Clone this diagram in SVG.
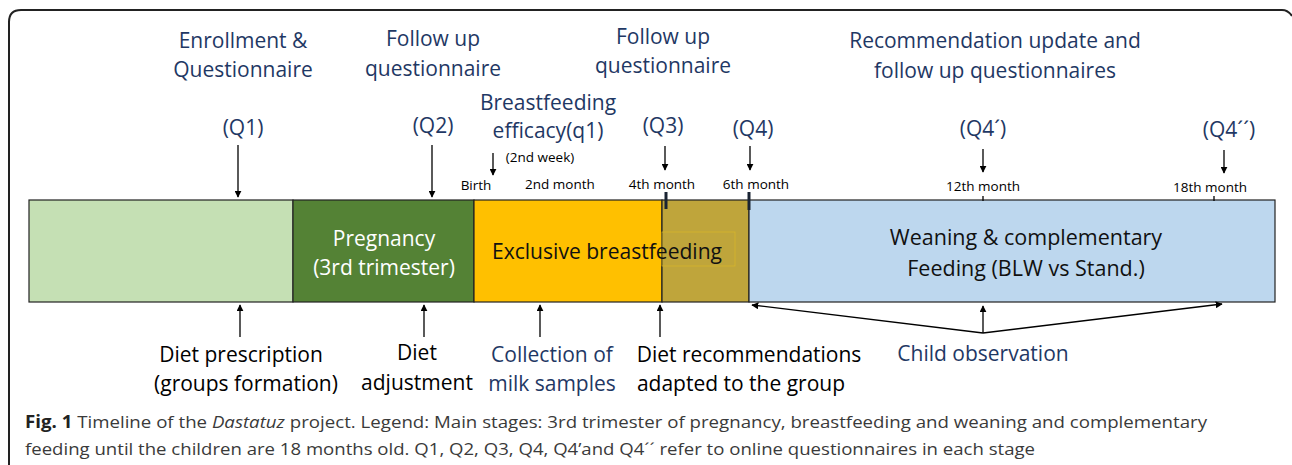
<svg xmlns="http://www.w3.org/2000/svg" width="1292" height="465" viewBox="0 0 1292 465">
<style>
.t{font-family:"Open Sans","Liberation Sans",sans-serif;text-anchor:middle}
.navy{fill:#1f3864;font-size:21px}
.blk{fill:#000;font-size:21px}
.sm{fill:#000;font-size:13.5px}
.cap{font-family:"Open Sans","Liberation Sans",sans-serif;fill:#3a3a3a;font-size:17px}
.ln{stroke:#000;stroke-width:1.3;fill:none}
.seg{stroke:#222;stroke-width:1.2}
</style>
<defs>
<marker id="ah" viewBox="0 0 10 10" refX="9" refY="5" markerWidth="7" markerHeight="7" markerUnits="userSpaceOnUse" orient="auto">
<path d="M0,0 L10,5 L0,10 z" fill="#000"/>
</marker>
</defs>
<rect width="1292" height="465" fill="#fff"/>
<path d="M9,465 L9,22 Q9,10 21,10 L1282,10 Q1288,10 1292,16" fill="none" stroke="#222" stroke-width="2"/>

<g id="seg-prescription"><rect class="seg" x="29" y="200" width="264" height="102" fill="#c5e0b4"/></g>
<g id="seg-pregnancy"><rect class="seg" x="293" y="200" width="181" height="102" fill="#548235"/>
<text class="t" x="384" y="246" fill="#fff" font-size="21">Pregnancy</text>
<text class="t" x="384" y="275" fill="#fff" font-size="21">(3rd trimester)</text></g>
<g id="seg-breastfeeding"><rect class="seg" x="474" y="200" width="188" height="102" fill="#ffc000"/>
<rect class="seg" x="662" y="200" width="87" height="102" fill="#bfa53b"/>
<rect x="662" y="232" width="73" height="34" fill="none" stroke="#d9b82a" stroke-width="0.7"/>
<text class="t" x="607" y="259" fill="#111" font-size="21" textLength="230" lengthAdjust="spacingAndGlyphs">Exclusive breastfeeding</text></g>
<g id="seg-weaning"><rect class="seg" x="749" y="200" width="526" height="102" fill="#bdd7ee"/>
<text class="t" x="1026" y="245" fill="#111" font-size="21.5">Weaning &amp; complementary</text>
<text class="t" x="1026" y="276" fill="#111" font-size="21.5">Feeding (BLW vs Stand.)</text></g>

<g id="ticks">
<line x1="666" y1="192" x2="666" y2="209" stroke="#1a2433" stroke-width="3"/>
<line x1="749" y1="192" x2="749" y2="210" stroke="#1a2433" stroke-width="3"/>
<line x1="983" y1="196" x2="983" y2="201" stroke="#000" stroke-width="1.3"/>
<line x1="1214" y1="196" x2="1214" y2="201" stroke="#000" stroke-width="1.3"/>
</g>

<g id="connectors">
<line class="ln" x1="238" y1="145" x2="238" y2="197" marker-end="url(#ah)"/>
<line class="ln" x1="432" y1="145" x2="432" y2="197" marker-end="url(#ah)"/>
<line class="ln" x1="493" y1="153" x2="493" y2="175" marker-end="url(#ah)"/>
<line class="ln" x1="665" y1="146" x2="665" y2="170" marker-end="url(#ah)"/>
<line class="ln" x1="750" y1="146" x2="750" y2="170" marker-end="url(#ah)"/>
<line class="ln" x1="983" y1="149" x2="983" y2="172" marker-end="url(#ah)"/>
<line class="ln" x1="1224" y1="150" x2="1224" y2="173" marker-end="url(#ah)"/>
<line class="ln" x1="240" y1="337" x2="240" y2="305" marker-end="url(#ah)"/>
<line class="ln" x1="424" y1="337" x2="424" y2="305" marker-end="url(#ah)"/>
<line class="ln" x1="540" y1="337" x2="540" y2="305" marker-end="url(#ah)"/>
<line class="ln" x1="660" y1="337" x2="660" y2="305" marker-end="url(#ah)"/>
<line class="ln" x1="983" y1="333" x2="983" y2="306" marker-end="url(#ah)"/>
<line class="ln" x1="983" y1="333" x2="752" y2="305" marker-end="url(#ah)"/>
<line class="ln" x1="983" y1="333" x2="1222" y2="304" marker-end="url(#ah)"/>
</g>

<g id="top-labels">
<text class="t navy" x="243" y="48">Enrollment &amp;</text>
<text class="t navy" x="243" y="77">Questionnaire</text>
<text class="t navy" x="433" y="46">Follow up</text>
<text class="t navy" x="433" y="76">questionnaire</text>
<text class="t navy" x="663" y="44">Follow up</text>
<text class="t navy" x="663" y="73">questionnaire</text>
<text class="t navy" x="995" y="48">Recommendation update and</text>
<text class="t navy" x="995" y="78">follow up questionnaires</text>
<text class="t navy" x="243" y="135">(Q1)</text>
<text class="t navy" x="433" y="133">(Q2)</text>
<text class="t navy" x="548" y="110">Breastfeeding</text>
<text class="t navy" x="548" y="138">efficacy(q1)</text>
<text class="t navy" x="663" y="133">(Q3)</text>
<text class="t navy" x="753" y="136">(Q4)</text>
<text class="t navy" x="983" y="136">(Q4´)</text>
<text class="t navy" x="1229" y="137">(Q4´´)</text>
<text class="t sm" x="540" y="162">(2nd week)</text>
<text class="t sm" x="476" y="190">Birth</text>
<text class="t sm" x="560" y="189">2nd month</text>
<text class="t sm" x="662" y="189">4th month</text>
<text class="t sm" x="756" y="189">6th month</text>
<text class="t sm" x="983" y="191">12th month</text>
<text class="t sm" x="1210" y="192">18th month</text>
</g>

<g id="bottom-labels">
<text class="t blk" x="241" y="362">Diet prescription</text>
<text class="t blk" x="246" y="391">(groups formation)</text>
<text class="t blk" x="417" y="360">Diet</text>
<text class="t blk" x="417" y="390">adjustment</text>
<text class="t navy" x="552" y="362">Collection of</text>
<text class="t navy" x="552" y="391">milk samples</text>
<text class="t blk" x="749" y="362">Diet recommendations</text>
<text class="t blk" x="741" y="391">adapted to the group</text>
<text class="t navy" x="983" y="361">Child observation</text>
</g>

<g id="caption">
<text class="cap" x="25" y="428" textLength="1182" lengthAdjust="spacingAndGlyphs"><tspan font-weight="bold" fill="#222">Fig. 1</tspan> Timeline of the <tspan font-style="italic">Dastatuz</tspan> project. Legend: Main stages: 3rd trimester of pregnancy, breastfeeding and weaning and complementary</text>
<text class="cap" x="25" y="455" textLength="1010" lengthAdjust="spacingAndGlyphs">feeding until the children are 18 months old. Q1, Q2, Q3, Q4, Q4’and Q4´´ refer to online questionnaires in each stage</text>
</g>
</svg>
